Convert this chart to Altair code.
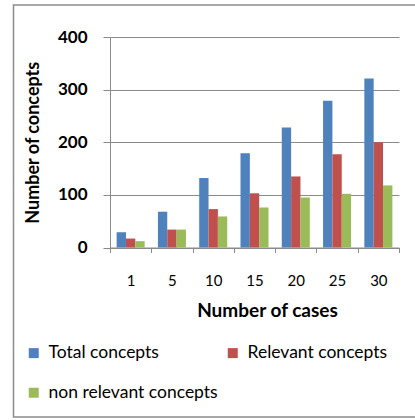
import altair as alt
import pandas as pd

# Number of concepts extracted as the case base grows
cases = ["1", "5", "10", "15", "20", "25", "30"]
total_concepts = [29, 68, 132, 179, 228, 279, 321]
relevant_concepts = [17, 34, 73, 103, 135, 177, 200]
non_relevant_concepts = [12, 34, 59, 76, 95, 102, 118]

series = ["Total concepts", "Relevant concepts", "non relevant concepts"]
colors = ["#4F81BD", "#C0504D", "#9BBB59"]
y_ticks = [0, 100, 200, 300, 400]

rows = []
for i, c in enumerate(cases):
    for s, vals in zip(series, [total_concepts, relevant_concepts, non_relevant_concepts]):
        rows.append({"cases": c, "series": s, "count": vals[i]})
df = pd.DataFrame(rows)

FONT = "Lato"
GRID = "#8a8a8a"

bars = alt.Chart(df).mark_bar().encode(
    x=alt.X(
        "cases:N",
        sort=cases,
        scale=alt.Scale(paddingInner=0, paddingOuter=0),
        axis=alt.Axis(
            title="Number of cases",
            labelAngle=0,
            tickBand="extent",
            tickSize=5,
            tickColor=GRID,
            domainColor=GRID,
            labelFontSize=15,
            labelPadding=21,
            titleFontSize=19,
            titleFontWeight="bold",
            titlePadding=13,
            titleX=157,
        ),
    ),
    xOffset=alt.XOffset(
        "series:N", sort=series, scale=alt.Scale(paddingInner=0, paddingOuter=0.71)
    ),
    y=alt.Y(
        "count:Q",
        scale=alt.Scale(domain=[0, 400]),
        axis=alt.Axis(
            title="Number of concepts",
            values=y_ticks,
            grid=True,
            gridColor=GRID,
            tickColor=GRID,
            domainColor=GRID,
            tickSize=7,
            labelFontSize=17,
            labelFontWeight="bold",
            labelPadding=16,
            titleFontSize=18,
            titleFontWeight="bold",
            titlePadding=15,
        ),
    ),
    color=alt.Color(
        "series:N",
        sort=series,
        scale=alt.Scale(domain=series, range=colors),
        legend=alt.Legend(
            title=None,
            orient="none",
            direction="horizontal",
            legendX=-85,
            legendY=307,
            columns=2,
            columnPadding=6,
            rowPadding=21,
            symbolType="square",
            symbolSize=100,
            symbolStrokeWidth=0,
            symbolOffset=0,
            labelFontSize=17.5,
            labelOffset=6,
            labelLimit=300,
        ),
    ),
)

# Light frame around the whole figure
frame = alt.Chart(pd.DataFrame({"k": [0]})).mark_rect(
    fill=None, stroke="#8c8c8c", strokeWidth=1.5
).encode(
    x=alt.value(-96.5),
    x2=alt.value(320),
    y=alt.value(-32),
    y2=alt.value(380),
)

chart = (
    alt.layer(frame, bars)
    .properties(
        width=289,
        height=210.5,
        autosize=alt.AutoSizeParams(type="none"),
        padding={"left": 110, "top": 37, "right": 16, "bottom": 172},
        background="white",
    )
    .configure(font=FONT)
    .configure_view(stroke=None)
    .configure_axis(labelColor="black", titleColor="black")
    .configure_legend(labelColor="black")
)

chart.save("out.html", embed_options={"renderer": "svg", "actions": False})
